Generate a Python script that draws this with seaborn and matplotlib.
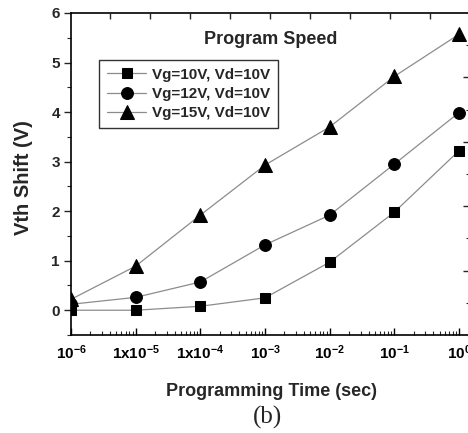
import numpy as np
import pandas as pd
import matplotlib
matplotlib.use("Agg")
import matplotlib.pyplot as plt
import seaborn as sns
from matplotlib.ticker import LogLocator, FixedLocator, NullFormatter, MultipleLocator

# ---- data ----
times = [1e-6, 1e-5, 1e-4, 1e-3, 1e-2, 1e-1, 1e0]
vg10 = [0.0, 0.0, 0.08, 0.25, 0.97, 1.98, 3.22]
vg12 = [0.12, 0.26, 0.57, 1.32, 1.92, 2.95, 3.99]
vg15 = [0.22, 0.89, 1.92, 2.93, 3.70, 4.72, 5.57]
series_names = ["Vg=10V, Vd=10V", "Vg=12V, Vd=10V", "Vg=15V, Vd=10V"]
xtick_vals = [1e-6, 1e-5, 1e-4, 1e-3, 1e-2, 1e-1, 1e0]
xtick_labels = [r"$10^{-6}$", r"1x10$^{-5}$", r"1x10$^{-4}$", r"$10^{-3}$",
                r"$10^{-2}$", r"$10^{-1}$", r"$10^{0}$"]
ytick_vals = [0, 1, 2, 3, 4, 5, 6]

df = pd.DataFrame({
    "t": times * 3,
    "v": vg10 + vg12 + vg15,
    "series": [series_names[0]] * 7 + [series_names[1]] * 7 + [series_names[2]] * 7,
})

sns.set_style("ticks")
plt.rcParams["font.family"] = ["Liberation Sans", "DejaVu Sans"]
plt.rcParams["font.weight"] = "bold"
plt.rcParams["mathtext.fontset"] = "custom"
plt.rcParams["mathtext.rm"] = "Liberation Sans:bold"
plt.rcParams["mathtext.bf"] = "Liberation Sans:bold"
plt.rcParams["mathtext.it"] = "Liberation Sans:bold"
plt.rcParams["mathtext.default"] = "bf"

W, H = 468, 433
fig = plt.figure(figsize=(W / 100, H / 100), dpi=100)
L, R, T, B = 71, 470, 13, 335
ax = fig.add_axes([L / W, 1 - B / H, (R - L) / W, (B - T) / H])

sns.lineplot(data=df, x="t", y="v", hue="series", style="series",
             markers={series_names[0]: "s", series_names[1]: "o", series_names[2]: "^"},
             dashes=False, palette=["#8c8c8c"] * 3, linewidth=0.9,
             markersize=8, legend=False, ax=ax)
for ln, ms in zip(ax.lines, [7, 8.5, 9.5]):
    ln.set_markerfacecolor("black")
    ln.set_markeredgecolor("black")
    ln.set_markersize(ms)

ax.set_xscale("log")
decade_px = (459 - 71) / 6
xmax = 10 ** ((R - L) / decade_px - 6)
ax.set_xlim(1e-6, xmax)
ax.set_ylim(-0.5, 6)

# top ticks (separate scale)
axt = ax.twiny()
axt.set_xlim((L - 110) / 40, (R - 110) / 40)
axt.xaxis.set_major_locator(FixedLocator(range(0, 9)))
axt.tick_params(axis="x", direction="in", length=4, width=1, labeltop=False)
axt.tick_params(axis="y", left=False, right=False, labelleft=False, labelright=False)
for s in axt.spines.values():
    s.set_visible(False)

# right ticks (separate scale)
axr = ax.twinx()
axr.set_ylim(0, 5)
axr.yaxis.set_major_locator(FixedLocator([1, 2, 3, 4]))
axr.yaxis.set_minor_locator(MultipleLocator(0.5))
axr.tick_params(axis="y", which="major", direction="in", length=5, width=1, labelright=False)
axr.tick_params(axis="y", which="minor", direction="in", length=3, width=0.8)
axr.tick_params(axis="x", bottom=False, top=False, labelbottom=False, labeltop=False)
for s in axr.spines.values():
    s.set_visible(False)

ax.set_xticks(xtick_vals)
ax.set_xticklabels(xtick_labels)
ax.xaxis.set_minor_locator(LogLocator(base=10, subs=np.arange(2, 10), numticks=20))
ax.xaxis.set_minor_formatter(NullFormatter())
ax.set_yticks(ytick_vals)
ax.set_yticklabels([str(v) for v in ytick_vals])
ax.yaxis.set_minor_locator(MultipleLocator(0.5))

ax.tick_params(axis="x", which="major", direction="in", length=5, width=1,
               labelsize=11, pad=6, colors="black")
ax.tick_params(axis="x", which="minor", direction="in", length=3, width=0.8)
ax.tick_params(axis="y", which="major", direction="out", length=5, width=1,
               labelsize=11, pad=3, left=True, labelleft=True)
ax.tick_params(axis="y", which="minor", direction="out", length=3, width=0.8)
for lab in ax.get_xticklabels() + ax.get_yticklabels():
    lab.set_fontweight("bold")

for s in ["left", "bottom", "top"]:
    ax.spines[s].set_visible(True)
    ax.spines[s].set_linewidth(1.2)
    ax.spines[s].set_color("black")
ax.spines["right"].set_visible(False)

ax.set_xlabel("Programming Time (sec)", fontsize=13, fontweight="bold")
ax.set_ylabel("Vth Shift (V)", fontsize=14.5, fontweight="bold")
ax.xaxis.set_label_coords((271 - L) / (R - L), -(383 - B) / (B - T))
ax.yaxis.set_label_coords((33 - L) / (R - L), (B - 178) / (B - T))

ax.text((271 - L) / (R - L), (B - 39) / (B - T), "Program Speed", transform=ax.transAxes,
        ha="center", va="center", fontsize=13, fontweight="bold")

leg = ax.legend(handles=ax.lines[:3], labels=series_names,
                loc="upper left", bbox_to_anchor=((99 - L) / (R - L), (B - 60) / (B - T)),
                prop={"weight": "bold", "size": 11}, frameon=True, fancybox=False,
                edgecolor="black", handlelength=2.6, handletextpad=0.4,
                labelspacing=0.35, borderpad=0.5, borderaxespad=0)
leg.get_frame().set_linewidth(1.0)
leg.set_zorder(10)

fig.text(267 / W, 1 - 417 / H, "(b)", ha="center", va="center",
         fontsize=18, family="Liberation Serif", fontweight="normal")

fig.savefig("out.png", dpi=100)
